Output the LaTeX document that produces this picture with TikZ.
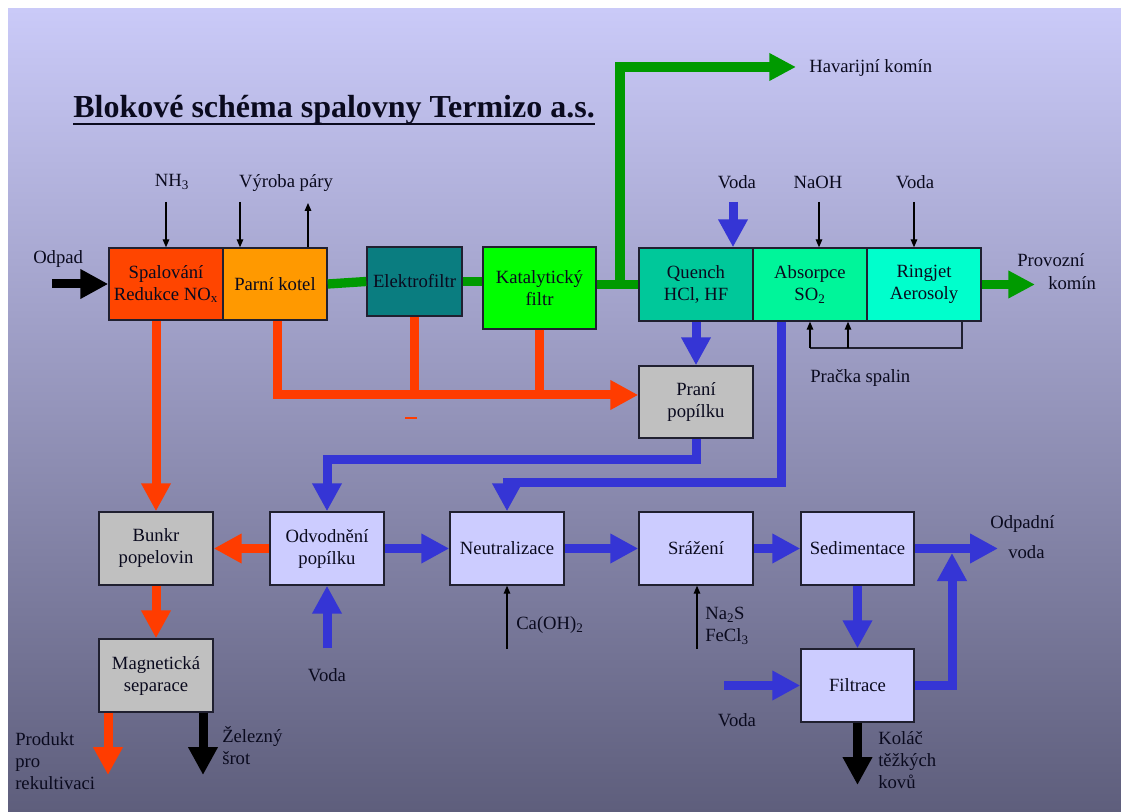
\documentclass[tikz,border=0pt]{standalone}
\usepackage{fontspec}
\setmainfont{Liberation Serif}
\usetikzlibrary{arrows.meta}

\definecolor{bgtop}{HTML}{CACAF8}
\definecolor{bgmid}{HTML}{A6A6D2}
\definecolor{bgbot}{HTML}{5E5E7C}
\definecolor{edgec}{HTML}{202030}
\definecolor{txt}{HTML}{0A0A1E}
\definecolor{flowred}{HTML}{FF3C00}
\definecolor{flowblue}{HTML}{3535D5}
\definecolor{flowgreen}{HTML}{009A00}
\definecolor{cSpal}{HTML}{FF4500}
\definecolor{cKotel}{HTML}{FF9900}
\definecolor{cElek}{HTML}{0A7D80}
\definecolor{cKat}{HTML}{00FF00}
\definecolor{cQuench}{HTML}{00C89A}
\definecolor{cAbs}{HTML}{00F59A}
\definecolor{cRing}{HTML}{00FFCC}
\definecolor{cGray}{HTML}{C0C0C0}
\definecolor{cLav}{HTML}{CCCCFF}

\tikzset{
  box/.style={draw=edgec, line width=1.1pt, align=center, text=txt,
    inner sep=0pt, font=\fontsize{14}{16.5}\selectfont},
  lbl/.style={inner sep=0pt, text=txt, align=left,
    font=\fontsize{14}{16.5}\selectfont},
  fat/.style={line width=6.75pt, -{Triangle[length=21pt,width=21pt]}},
  fatline/.style={line width=6.75pt},
  redarrow/.style={fat, draw=flowred},
  redline/.style={fatline, draw=flowred},
  bluearrow/.style={fat, draw=flowblue},
  blackarrow/.style={fat, draw=black},
  greenline/.style={line width=7pt, draw=flowgreen},
  greenarrow/.style={line width=7pt, draw=flowgreen,
    -{Triangle[length=20pt,width=19.5pt]}},
  thinarrow/.style={line width=0.8pt, draw=black, -{Triangle[length=6pt,width=5pt]}},
  thinline/.style={line width=0.8pt, draw=edgec},
}

\begin{document}
\begin{tikzpicture}[x=0.75pt, y=-0.75pt, line join=miter]
  % page and shaded panel
  \path[use as bounding box, fill=white] (0,0) rectangle (1121,812);
  \fill[top color=bgtop, middle color=bgmid, bottom color=bgbot] (8,9) rectangle (1121,812);

  % title
  \node[anchor=base west, inner sep=0pt, text=txt,
        font=\fontsize{24}{26}\selectfont\bfseries] (title) at (73,118)
        {Blokové schéma spalovny Termizo a.s.};
  \draw[line width=2.2pt, txt] ([yshift=-4.5pt]title.base west) -- ([yshift=-4.5pt]title.base east);

  % upper row: flue gas line
  \node[box, fill=cSpal,  minimum width=85.5pt, minimum height=54pt] (spal) at (166,284)
        {Spalování\\Redukce NO\textsubscript{x}};
  \node[box, fill=cKotel, minimum width=78pt,   minimum height=54pt] (parni) at (275,284) {Parní kotel};
  \node[box, fill=cElek,  minimum width=71.25pt,minimum height=51.75pt] (elek) at (414.5,281.5) {Elektrofiltr};
  \node[box, fill=cKat,   minimum width=84.75pt,minimum height=61.5pt] (kat) at (539.5,288)
        {Katalytický\\filtr};
  \node[box, fill=cQuench,minimum width=85.5pt, minimum height=54.75pt] (quench) at (696,284.5)
        {Quench\\HCl, HF};
  \node[box, fill=cAbs,   minimum width=85.5pt, minimum height=54.75pt] (abs) at (810,284.5)
        {Absorpce\\SO\textsubscript{2}};
  \node[box, fill=cRing,  minimum width=85.5pt, minimum height=54.75pt] (ring) at (924,284.5)
        {Ringjet\\Aerosoly};
  \node[box, fill=cGray,  minimum width=85.5pt, minimum height=54pt] (prani) at (696,402)
        {Praní\\popílku};

  % lower row: ash and water treatment
  \node[box, fill=cGray, minimum width=85.5pt, minimum height=54.75pt] (bunkr) at (156,548.5)
        {Bunkr\\popelovin};
  \node[box, fill=cLav,  minimum width=85.5pt, minimum height=54.75pt] (odv) at (327,548.5)
        {Odvodnění\\popílku};
  \node[box, fill=cLav,  minimum width=85.5pt, minimum height=54.75pt] (neut) at (507,548.5) {Neutralizace};
  \node[box, fill=cLav,  minimum width=85.5pt, minimum height=54.75pt] (sraz) at (696,548.5) {Srážení};
  \node[box, fill=cLav,  minimum width=84.75pt,minimum height=54.75pt] (sed) at (857.5,548.5) {Sedimentace};
  \node[box, fill=cLav,  minimum width=84.75pt,minimum height=54.75pt] (filt) at (857.5,685.5) {Filtrace};
  \node[box, fill=cGray, minimum width=85.5pt, minimum height=54.75pt] (mag) at (156,675.5)
        {Magnetická\\separace};

  % labels
  \node[lbl, anchor=west] (odpad) at (33,259) {Odpad};
  \node[lbl] (nh3) at (172,182) {NH\textsubscript{3}};
  \node[lbl] (vyroba) at (286,183) {Výroba páry};
  \node[lbl, anchor=west] (hav) at (809,68) {Havarijní komín};
  \node[lbl] (vodaq) at (737,182) {Voda};
  \node[lbl] (naoh) at (818,182) {NaOH};
  \node[lbl] (vodar) at (915,182) {Voda};
  \node[lbl, anchor=west] (prov1) at (1017,260) {Provozní};
  \node[lbl, anchor=west] (prov2) at (1048,283) {komín};
  \node[lbl, anchor=west] (pracka) at (810,378) {Pračka spalin};
  \node[lbl] (vodaodv) at (327,675) {Voda};
  \node[lbl, anchor=west] (caoh) at (516,625) {Ca(OH)\textsubscript{2}};
  \node[lbl, anchor=west] (nas) at (705,626) {Na\textsubscript{2}S\\FeCl\textsubscript{3}};
  \node[lbl, anchor=west] (odp1) at (990,524) {Odpadní};
  \node[lbl, anchor=west] (odp2) at (1008,552) {voda};
  \node[lbl] (vodaf) at (737,720) {Voda};
  \node[lbl, anchor=west] (kolac) at (878,760) {Koláč\\těžkých\\kovů};
  \node[lbl, anchor=west] (produkt) at (15,761) {Produkt\\pro\\rekultivaci};
  \node[lbl, anchor=west] (zelezo) at (222,746) {Železný\\šrot};

  % free ends of connectors
  \coordinate (odpadS) at (52,284);
  \coordinate (nh3in) at (166,202);
  \coordinate (vin) at (240,202);
  \coordinate (vout) at (308,203);
  \coordinate (hj) at (620,284);
  \coordinate (havtip) at (796,67);
  \coordinate (provtip) at (1035,284.5);
  \coordinate (qin) at (733,202);
  \coordinate (naohin) at (819,202);
  \coordinate (vodarin) at (914,202);
  \coordinate (prA) at (810,348);
  \coordinate (prB) at (848,348);
  \coordinate (prC) at (962,348);
  \coordinate (r1) at (156,320);
  \coordinate (r2) at (277,395);
  \coordinate (a1) at (781,483);
  \coordinate (p1) at (696,460);
  \coordinate (vo) at (327,648);
  \coordinate (ca) at (507,649);
  \coordinate (na) at (697,649);
  \coordinate (odtip) at (998,548.5);
  \coordinate (f1) at (952,685.5);
  \coordinate (fup) at (952,553);
  \coordinate (vf) at (724,685.5);
  \coordinate (kt) at (857.5,785);
  \coordinate (pt) at (108,775);
  \coordinate (zt) at (203,775);
  \coordinate (dashA) at (405,418);
  \coordinate (dashB) at (417,418);

  % flue gas (green)
  \draw[greenline] (parni.east) -- (elek.west);
  \draw[greenline] (elek.east) -- (elek.east -| kat.west);
  \draw[greenline] (kat.east |- quench.west) -- (quench.west);
  \draw[greenarrow] (hj) |- (havtip);
  \draw[greenarrow] (ring.east) -- (provtip);

  % waste input
  \draw[blackarrow] (odpadS) -- (spal.west);

  % thin feeds
  \draw[thinarrow] (nh3in) -- (nh3in |- spal.north);
  \draw[thinarrow] (vin) -- (vin |- parni.north);
  \draw[thinarrow] (vout |- parni.north) -- (vout);
  \draw[thinarrow] (naohin) -- (naohin |- abs.north);
  \draw[thinarrow] (vodarin) -- (vodarin |- ring.north);
  \draw[thinline] (prC |- ring.south) -- (prC) -- (prA);
  \draw[thinarrow] (prA) -- (prA |- abs.south);
  \draw[thinarrow] (prB) -- (prB |- abs.south);
  \draw[thinarrow] (ca) -- (neut.south);
  \draw[thinarrow] (na) -- (na |- sraz.south);

  % ash (red)
  \draw[redarrow] (r1 |- spal.south) -- (bunkr.north);
  \draw[redline] (elek.south) -- (elek.south |- r2);
  \draw[redline] (kat.south) -- (kat.south |- r2);
  \draw[redarrow] (r2 |- parni.south) -- (r2) -- (r2 -| prani.west);
  \draw[flowred, line width=2pt] (dashA) -- (dashB);
  \draw[redarrow] (odv.west) -- (bunkr.east);
  \draw[redarrow] (bunkr.south) -- (mag.north);
  \draw[redarrow] (pt |- mag.south) -- (pt);
  \draw[blackarrow] (zt |- mag.south) -- (zt);

  % water (blue)
  \draw[bluearrow] (qin) -- (qin |- quench.north);
  \draw[bluearrow] (quench.south) -- (prani.north);
  \draw[bluearrow] (a1 |- abs.south) -- (a1) -| (neut.north);
  \draw[bluearrow] (prani.south) -- (p1) -| (odv.north);
  \draw[bluearrow] (vo) -- (odv.south);
  \draw[bluearrow] (odv.east) -- (neut.west);
  \draw[bluearrow] (neut.east) -- (sraz.west);
  \draw[bluearrow] (sraz.east) -- (sed.west);
  \draw[bluearrow] (sed.east) -- (odtip);
  \draw[bluearrow] (sed.south) -- (filt.north);
  \draw[bluearrow] (filt.east) -- (f1) -- (fup);
  \draw[bluearrow] (vf) -- (filt.west);
  \draw[blackarrow] (filt.south) -- (kt);
\end{tikzpicture}
\end{document}
